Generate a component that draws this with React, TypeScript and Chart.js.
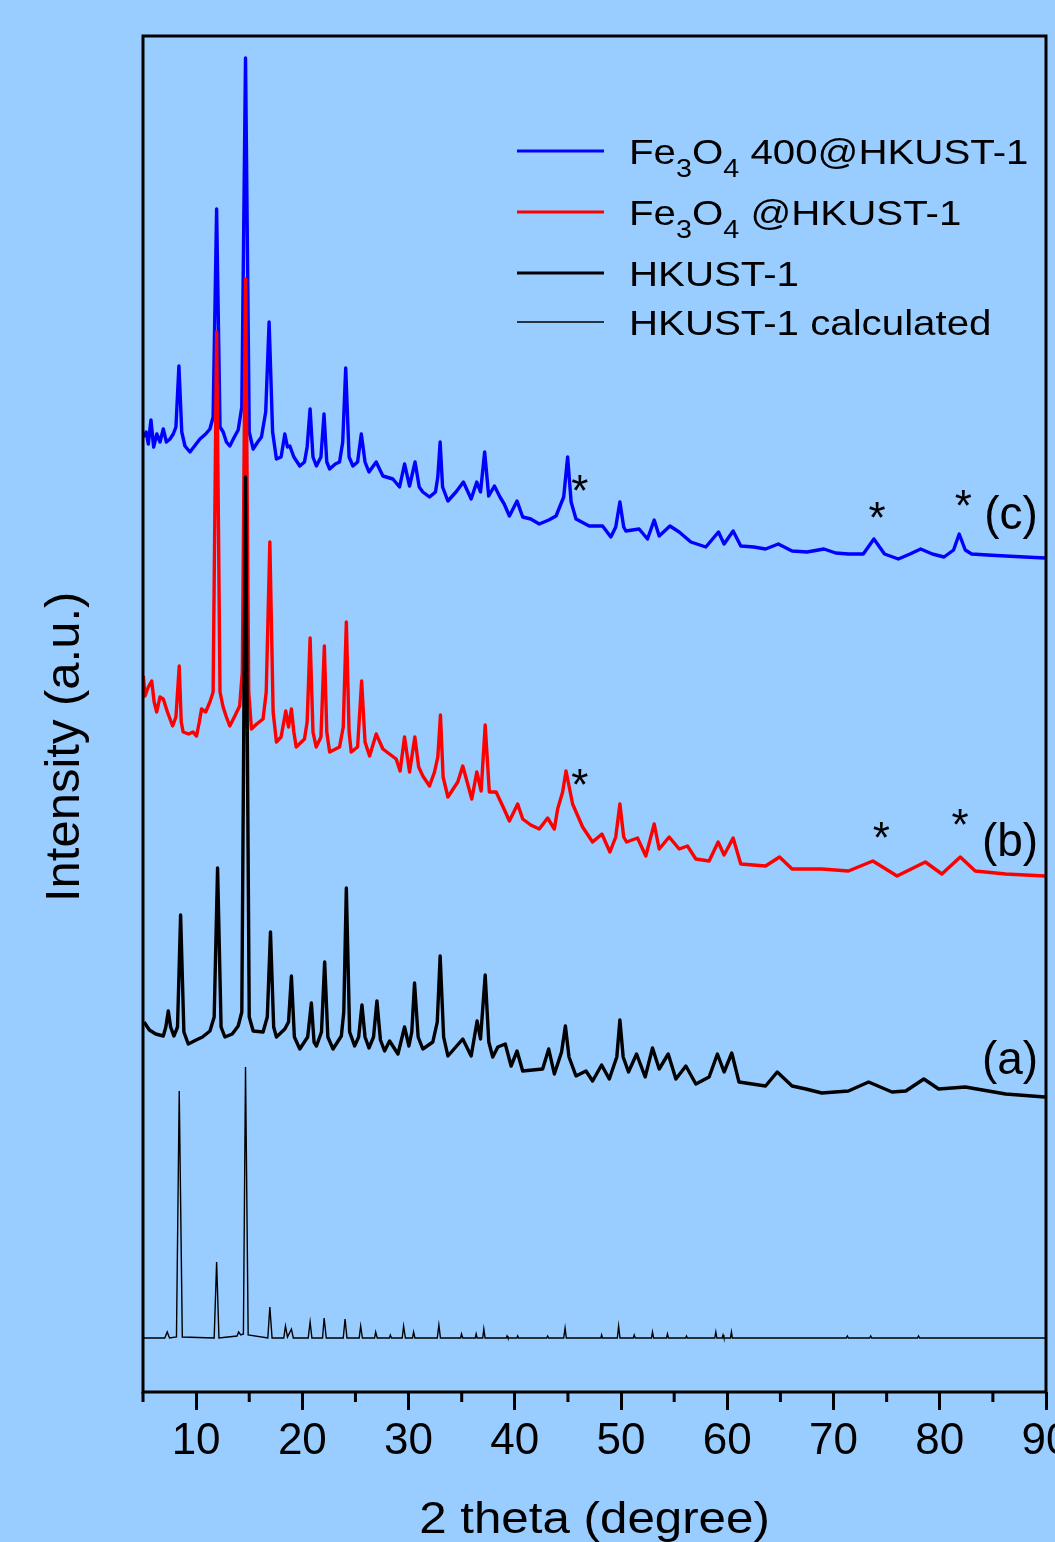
import React, { useEffect, useRef } from 'react';
import { Chart, registerables } from 'chart.js';

Chart.register(...registerables);

const FONT = '"Liberation Sans", Arial, Helvetica, sans-serif';

// ---------- data (2 theta in degrees, intensity in arbitrary units incl. vertical offsets) ----------
const seriesLabels = ['Fe3O4 400@HKUST-1', 'Fe3O4 @HKUST-1', 'HKUST-1', 'HKUST-1 calculated'];
const seriesColors = ['#0000ff', '#ff0000', '#000000', '#000000'];

const blueAngle = [5.05, 5.3, 5.5, 5.75, 6.0, 6.3, 6.6, 6.91, 7.2, 7.54, 7.85, 8.1, 8.38, 8.65, 8.95, 9.42, 10.0, 10.36, 10.9, 11.3, 11.6, 11.93, 12.25, 12.55, 12.85, 13.17, 13.6, 13.96, 14.3, 14.65, 15.0, 15.37, 15.8, 16.15, 16.55, 16.87, 17.2, 17.56, 18.0, 18.35, 18.6, 18.82, 19.2, 19.76, 20.2, 20.45, 20.73, 21.0, 21.32, 21.75, 22.04, 22.3, 22.57, 23.1, 23.5, 23.8, 24.08, 24.4, 24.76, 25.2, 25.55, 25.9, 26.27, 26.95, 27.58, 28.52, 29.15, 29.62, 30.09, 30.61, 31.0, 31.34, 31.97, 32.53, 32.75, 32.97, 33.2, 33.7, 34.46, 35.16, 35.89, 36.42, 36.77, 37.16, 37.54, 38.08, 38.6, 39.0, 39.49, 40.21, 40.74, 41.5, 42.3, 43.2, 43.88, 44.6, 44.97, 45.3, 45.76, 47.0, 48.26, 49.04, 49.5, 49.89, 50.25, 50.45, 51.7, 52.49, 53.12, 53.59, 54.6, 55.47, 56.57, 57.98, 59.17, 59.7, 60.55, 61.27, 62.5, 63.6, 64.8, 66.1, 67.5, 69.1, 70.2, 71.4, 72.8, 73.8, 74.8, 76.1, 77.2, 78.2, 79.3, 80.4, 81.3, 81.83, 82.4, 83.0, 84.5, 86.2, 88.0, 89.9];
const blueIntensity = [955, 960, 948, 972, 945, 958, 950, 963, 950, 953, 958, 965, 1026, 960, 946, 940, 948, 953, 958, 963, 975, 1183, 965, 960, 950, 946, 955, 962, 985, 1334, 960, 943, 950, 955, 980, 1070, 960, 933, 935, 958, 945, 946, 935, 926, 930, 945, 983, 935, 926, 935, 978, 930, 923, 928, 930, 950, 1024, 935, 926, 930, 958, 930, 920, 930, 916, 913, 905, 928, 906, 930, 905, 900, 895, 900, 915, 950, 905, 891, 900, 910, 893, 910, 900, 940, 896, 906, 895, 888, 876, 891, 875, 873, 868, 872, 876, 895, 935, 890, 873, 866, 866, 855, 865, 890, 865, 861, 863, 853, 872, 856, 866, 860, 850, 845, 860, 848, 861, 846, 845, 843, 848, 841, 840, 843, 839, 838, 838, 853, 838, 833, 838, 843, 838, 835, 842, 858, 842, 838, 837, 836, 835, 834];

const redAngle = [5.03, 5.19, 5.5, 5.82, 6.05, 6.29, 6.6, 6.91, 7.3, 7.79, 8.1, 8.41, 8.6, 8.78, 9.3, 9.7, 10.04, 10.3, 10.51, 10.9, 11.3, 11.6, 11.93, 12.25, 12.54, 12.85, 13.17, 13.6, 14.1, 14.35, 14.65, 14.95, 15.21, 15.7, 16.3, 16.6, 16.94, 17.25, 17.56, 18.0, 18.44, 18.7, 18.97, 19.2, 19.42, 20.2, 20.45, 20.73, 21.0, 21.3, 21.75, 22.07, 22.3, 22.57, 23.5, 23.85, 24.14, 24.4, 24.6, 25.2, 25.58, 25.9, 26.33, 26.95, 27.58, 28.83, 29.2, 29.62, 30.09, 30.59, 30.95, 31.34, 31.97, 32.44, 32.75, 33.0, 33.25, 33.7, 34.63, 35.1, 35.95, 36.42, 36.83, 37.21, 37.6, 38.24, 38.9, 39.49, 40.27, 40.74, 41.5, 42.3, 43.09, 43.72, 44.03, 44.5, 44.82, 45.44, 46.38, 47.32, 48.2, 48.95, 49.5, 49.89, 50.25, 50.52, 51.55, 52.33, 53.12, 53.59, 54.53, 55.47, 56.25, 57.04, 58.29, 59.14, 59.7, 60.55, 61.27, 63.6, 64.92, 66.1, 68.9, 71.4, 73.7, 75.98, 78.64, 80.2, 81.93, 83.34, 86.2, 89.9];
const redIntensity = [716, 696, 705, 711, 690, 680, 695, 693, 680, 666, 675, 726, 670, 660, 658, 660, 656, 670, 683, 680, 690, 700, 1060, 700, 685, 675, 666, 675, 686, 720, 1113, 700, 663, 668, 673, 700, 850, 680, 650, 655, 681, 665, 683, 660, 645, 653, 670, 754, 660, 645, 655, 746, 660, 640, 645, 665, 770, 660, 640, 645, 711, 650, 636, 658, 643, 633, 621, 655, 620, 655, 625, 616, 606, 620, 635, 677, 615, 595, 610, 626, 593, 620, 601, 667, 600, 600, 585, 571, 588, 573, 567, 563, 574, 563, 583, 600, 621, 588, 565, 550, 558, 540, 555, 588, 555, 550, 554, 536, 568, 543, 555, 543, 546, 533, 531, 550, 537, 554, 528, 526, 535, 523, 523, 521, 531, 516, 530, 518, 535, 521, 518, 516];

const blackAngle = [5.1, 5.6, 6.2, 6.91, 7.15, 7.38, 7.6, 7.91, 8.25, 8.54, 8.85, 9.26, 10.0, 10.6, 11.3, 11.7, 12.02, 12.35, 12.71, 13.4, 13.96, 14.3, 14.65, 15.0, 15.37, 16.3, 16.7, 17.0, 17.3, 17.56, 18.35, 18.7, 18.97, 19.25, 19.76, 20.5, 20.85, 21.1, 21.33, 21.8, 22.1, 22.4, 22.89, 23.67, 23.9, 24.14, 24.45, 24.92, 25.3, 25.61, 25.9, 26.27, 26.7, 27.02, 27.35, 27.74, 28.21, 29.0, 29.62, 30.03, 30.3, 30.56, 30.9, 31.34, 32.28, 32.7, 32.97, 33.3, 33.7, 35.1, 35.89, 36.45, 36.77, 37.21, 37.55, 37.92, 38.4, 39.1, 39.65, 40.21, 40.74, 42.62, 43.19, 43.72, 44.4, 44.76, 45.1, 45.76, 46.7, 47.32, 48.17, 48.89, 49.6, 49.89, 50.2, 50.7, 51.46, 52.27, 52.96, 53.59, 54.44, 55.16, 56.1, 57.04, 58.29, 59.07, 59.7, 60.42, 61.1, 63.6, 64.7, 66.1, 67.4, 68.9, 71.4, 73.3, 75.5, 76.8, 78.5, 79.9, 82.4, 86.2, 89.9];
const blackIntensity = [370, 362, 358, 356, 365, 381, 365, 356, 365, 477, 360, 348, 352, 355, 361, 375, 524, 365, 355, 358, 366, 380, 915, 375, 361, 360, 375, 460, 365, 355, 363, 370, 416, 355, 343, 355, 389, 350, 346, 360, 430, 355, 343, 356, 380, 504, 360, 346, 355, 387, 355, 344, 355, 391, 352, 341, 351, 338, 365, 346, 360, 409, 355, 343, 350, 370, 436, 355, 336, 353, 336, 371, 353, 417, 350, 335, 345, 348, 326, 341, 321, 323, 343, 318, 340, 366, 335, 316, 321, 311, 327, 313, 335, 372, 335, 320, 338, 315, 344, 323, 338, 313, 326, 308, 315, 338, 320, 339, 310, 306, 320, 306, 303, 299, 301, 310, 300, 301, 313, 303, 305, 298, 295];

const calcAngle = [5.0, 7.05, 7.28, 7.5, 8.15, 8.41, 8.7, 11.7, 11.93, 12.15, 13.85, 14.0, 14.2, 14.45, 14.65, 14.9, 16.75, 16.94, 17.15, 18.25, 18.41, 18.6, 18.97, 19.15, 20.55, 20.73, 20.9, 21.9, 22.05, 22.25, 23.85, 24.02, 24.2, 25.35, 25.49, 25.65, 26.8, 26.9, 27.05, 28.2, 28.28, 28.4, 29.4, 29.53, 29.7, 30.37, 30.47, 30.6, 32.7, 32.85, 33.0, 34.9, 34.98, 35.1, 36.28, 36.36, 36.45, 36.98, 37.08, 37.2, 39.2, 39.27, 39.35, 40.2, 40.27, 40.35, 43.0, 43.09, 43.18, 44.6, 44.73, 44.85, 48.1, 48.17, 48.25, 49.65, 49.77, 49.9, 51.15, 51.24, 51.33, 52.86, 52.96, 53.06, 54.28, 54.37, 54.46, 56.08, 56.16, 56.24, 58.82, 58.92, 59.02, 59.52, 59.6, 59.68, 60.3, 60.39, 60.48, 71.2, 71.3, 71.4, 73.4, 73.5, 73.6, 77.9, 78.0, 78.1, 90.0];
const calcIntensity = [54, 54, 60, 54, 55, 301, 55, 54, 130, 54, 56, 60, 57, 58, 325, 57, 54, 85, 54, 54, 66, 55, 63, 54, 54, 70, 54, 54, 74, 54, 54, 73, 54, 54, 66, 54, 54, 60, 54, 54, 57, 54, 54, 66, 54, 54, 60, 54, 54, 67, 54, 54, 58, 54, 54, 58, 54, 54, 63, 54, 54, 56, 54, 54, 56, 54, 54, 56, 54, 54, 64, 54, 54, 57, 54, 54, 66, 54, 54, 57, 54, 54, 60, 54, 54, 58, 54, 54, 56, 54, 54, 60, 54, 54, 57, 54, 54, 60, 54, 54, 56, 54, 54, 56, 54, 54, 56, 54, 54];

// annotation marks (Fe3O4 reflections) and curve tags
const starAngle = [46.1, 74.1, 82.2, 46.1, 74.5, 81.9];
const starIntensity = [909, 882, 894, 615, 562, 575];
const tagText = ['(c)', '(b)', '(a)'];
const tagAngle = [86.7, 86.6, 86.6];
const tagIntensity = [875, 548, 330];

const xTitle = '2 theta (degree)';
const yTitle = 'Intensity (a.u.)';

const toPoints = (xs: number[], ys: number[]) => xs.map((x, i) => ({ x, y: ys[i] }));

function drawInkCentered(ctx: CanvasRenderingContext2D, text: string, cx: number, cy: number, size: number, sx = 1) {
  ctx.save();
  ctx.font = `${size}px ${FONT}`;
  ctx.textAlign = 'left';
  ctx.textBaseline = 'alphabetic';
  const m = ctx.measureText(text);
  const L = m.actualBoundingBoxLeft, R = m.actualBoundingBoxRight;
  const A = m.actualBoundingBoxAscent, D = m.actualBoundingBoxDescent;
  ctx.translate(cx, cy);
  ctx.scale(sx, 1);
  ctx.fillText(text, (L - R) / 2, (A - D) / 2);
  ctx.restore();
}

// draws a label, turning digits inside a chemical formula word into subscripts
function drawFormulaLabel(ctx: CanvasRenderingContext2D, label: string, x: number, baseline: number, size: number, sx: number) {
  ctx.save();
  ctx.translate(x, baseline);
  ctx.scale(sx, 1);
  ctx.textAlign = 'left';
  ctx.textBaseline = 'alphabetic';
  const words = label.split(' ');
  let cur = 0;
  const subSize = Math.round(size * 0.7);
  words.forEach((w, wi) => {
    const isFormula = /^([A-Z][a-z]?\d*)+$/.test(w) && /\d/.test(w);
    if (isFormula) {
      const parts = w.match(/[A-Za-z]+|\d+/g) || [];
      parts.forEach((p) => {
        if (/^\d+$/.test(p)) {
          ctx.font = `${subSize}px ${FONT}`;
          ctx.fillText(p, cur, size * 0.36);
          cur += ctx.measureText(p).width;
        } else {
          ctx.font = `${size}px ${FONT}`;
          ctx.fillText(p, cur, 0);
          cur += ctx.measureText(p).width;
        }
      });
    } else {
      ctx.font = `${size}px ${FONT}`;
      ctx.fillText(w, cur, 0);
      cur += ctx.measureText(w).width;
    }
    if (wi < words.length - 1) {
      ctx.font = `${size}px ${FONT}`;
      cur += ctx.measureText(' ').width;
    }
  });
  ctx.restore();
}

const decorPlugin = {
  id: 'decor',
  afterDraw(chart: any) {
    const { ctx, chartArea: a, scales } = chart;
    const xs = scales.x;
    const ys = scales.y;
    ctx.save();
    ctx.fillStyle = '#000';
    ctx.strokeStyle = '#000';

    // frame
    ctx.lineWidth = 3;
    ctx.strokeRect(a.left, a.top, a.right - a.left, a.bottom - a.top);

    // minor ticks
    ctx.beginPath();
    for (let v = 5; v < 90; v += 10) {
      const px = xs.getPixelForValue(v);
      ctx.moveTo(px, a.bottom);
      ctx.lineTo(px, a.bottom + 10);
    }
    ctx.stroke();

    // stars
    for (let i = 0; i < starAngle.length; i++) {
      drawInkCentered(ctx, '*', xs.getPixelForValue(starAngle[i]), ys.getPixelForValue(starIntensity[i]), 44);
    }
    // curve tags
    for (let i = 0; i < tagText.length; i++) {
      drawInkCentered(ctx, tagText[i], xs.getPixelForValue(tagAngle[i]), ys.getPixelForValue(tagIntensity[i]), 46);
    }

    // x title
    ctx.save();
    ctx.font = `44px ${FONT}`;
    ctx.textAlign = 'center';
    ctx.textBaseline = 'alphabetic';
    ctx.translate((a.left + a.right) / 2, a.bottom + 141);
    ctx.scale(1.12, 1);
    ctx.fillText(xTitle, 0, 0);
    ctx.restore();

    // y title
    ctx.save();
    ctx.translate(a.left - 77, (a.top + a.bottom) / 2 + 32);
    ctx.rotate(-Math.PI / 2);
    drawInkCentered(ctx, yTitle, 0, 0, 49);
    ctx.restore();

    // legend
    const rowY = [151, 212, 273, 322];
    const ds = chart.data.datasets;
    for (let i = 0; i < ds.length; i++) {
      ctx.save();
      ctx.strokeStyle = ds[i].borderColor;
      ctx.lineWidth = i === 3 ? 1.5 : 3;
      ctx.beginPath();
      ctx.moveTo(517, rowY[i]);
      ctx.lineTo(604, rowY[i]);
      ctx.stroke();
      ctx.restore();
      drawFormulaLabel(ctx, ds[i].label, 629, rowY[i] + 13, 35, 1.15);
    }
    ctx.restore();
  },
};

export default function App() {
  const ref = useRef<HTMLCanvasElement | null>(null);

  useEffect(() => {
    if (!ref.current) return;
    const chart = new Chart(ref.current, {
      type: 'line',
      data: {
        datasets: [
          { label: seriesLabels[0], data: toPoints(blueAngle, blueIntensity), borderColor: seriesColors[0], borderWidth: 3.4, borderJoinStyle: 'round', order: 4 },
          { label: seriesLabels[1], data: toPoints(redAngle, redIntensity), borderColor: seriesColors[1], borderWidth: 3.4, borderJoinStyle: 'round', order: 3 },
          { label: seriesLabels[2], data: toPoints(blackAngle, blackIntensity), borderColor: seriesColors[2], borderWidth: 3.4, borderJoinStyle: 'round', order: 2 },
          { label: seriesLabels[3], data: toPoints(calcAngle, calcIntensity), borderColor: seriesColors[3], borderWidth: 1.4, order: 1 },
        ],
      },
      options: {
        responsive: false,
        animation: false,
        devicePixelRatio: 1,
        layout: { padding: { left: 143, top: 36, right: 54, bottom: 0 } },
        elements: { point: { radius: 0 }, line: { tension: 0, fill: false } },
        plugins: { legend: { display: false }, tooltip: { enabled: false }, title: { display: false } },
        scales: {
          x: {
            type: 'linear',
            min: 5,
            max: 90,
            afterFit: (s: any) => { s.height = 150; },
            ticks: {
              stepSize: 5,
              autoSkip: false,
              maxRotation: 0,
              minRotation: 0,
              padding: 5,
              color: '#000',
              font: { family: FONT, size: 44 },
              callback: (v: any) => (Number(v) % 10 === 0 ? String(v) : ''),
            },
            grid: {
              display: true,
              drawOnChartArea: false,
              drawTicks: true,
              tickLength: 18,
              tickWidth: 3,
              color: 'rgba(0,0,0,0)',
              tickColor: (c: any) => (c.tick && Number(c.tick.value) % 10 === 0 ? '#000' : 'rgba(0,0,0,0)'),
            },
            border: { display: false },
          },
          y: { type: 'linear', display: false, min: 0, max: 1356 },
        },
      },
      plugins: [decorPlugin],
    } as any);
    return () => chart.destroy();
  }, []);

  return (
    <div style={{ position: 'absolute', left: 0, top: 0, width: 1055, height: 1542, overflow: 'hidden', background: '#99ccff' }}>
      <canvas ref={ref} width={1100} height={1542} style={{ display: 'block' }} />
    </div>
  );
}
